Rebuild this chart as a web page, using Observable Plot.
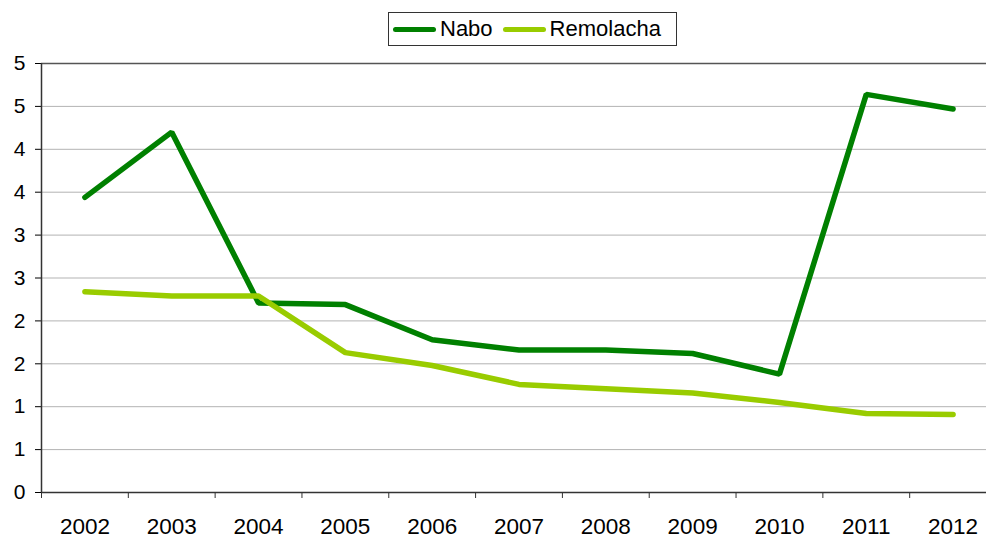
<!DOCTYPE html>
<html>
<head>
<meta charset="utf-8">
<script src="https://cdn.jsdelivr.net/npm/d3@7"></script>
<script src="https://cdn.jsdelivr.net/npm/@observablehq/plot@0.6"></script>
<style>
  html, body { margin: 0; padding: 0; background: #fff; }
  #wrap { position: relative; width: 986px; height: 538px; overflow: hidden; font-family: "Liberation Sans", Arial, sans-serif; }
  #legend { position: absolute; left: 388px; top: 12px; width: 287px; height: 32px; border: 1px solid #333; background: #fff;
    display: flex; align-items: center; font-size: 22px; color: #000; box-sizing: content-box; }
  .item { display: flex; align-items: center; margin-left: 4px; }
  .sw { width: 43px; height: 5px; border-radius: 3px; margin-right: 4px; }
</style>
</head>
<body>
<div id="wrap"></div>
<script>
const years = [2002, 2003, 2004, 2005, 2006, 2007, 2008, 2009, 2010, 2011, 2012];
const nabo = [3.44, 4.20, 2.21, 2.19, 1.78, 1.66, 1.66, 1.62, 1.38, 4.64, 4.47];
const remolacha = [2.34, 2.29, 2.29, 1.63, 1.48, 1.26, 1.21, 1.16, 1.05, 0.92, 0.91];
const seriesNames = ["Nabo", "Remolacha"];
const seriesColors = ["#008000", "#99cc00"];
const yTicks = [0, 0.5, 1, 1.5, 2, 2.5, 3, 3.5, 4, 4.5, 5];

const data = [];
years.forEach((y, i) => {
  data.push({year: y, value: nabo[i], series: "Nabo"});
  data.push({year: y, value: remolacha[i], series: "Remolacha"});
});
const boundaries = years.map(y => y - 0.5).concat([years[years.length - 1] + 0.5]);
const gridTicks = yTicks.filter(t => t > 0 && t < 5);

const chart = Plot.plot({
  width: 986,
  height: 538,
  marginTop: 63,
  marginBottom: 46,
  marginLeft: 41,
  marginRight: 0,
  style: {fontFamily: "'Liberation Sans', Arial, sans-serif", fontSize: "21px", background: "#fff", overflow: "visible"},
  x: {type: "linear", domain: [boundaries[0], boundaries[boundaries.length - 1]], range: [41, 996]},
  y: {domain: [0, 5]},
  color: {domain: seriesNames, range: seriesColors},
  marks: [
    Plot.ruleY(gridTicks, {stroke: "#b3b3b3", strokeWidth: 1}),
    Plot.ruleY([5], {stroke: "#555", strokeWidth: 1.5}),
    Plot.axisY({ticks: yTicks, tickFormat: d => String(Math.round(d)), tickSize: 6, tickPadding: 10,
      fontSize: 21, stroke: "#000", color: "#000", label: null}),
    Plot.axisX({ticks: years, tickFormat: d => String(d), tickSize: 0, tickPadding: 26, fontSize: 22.5, color: "#000", label: null}),
    Plot.axisX({ticks: boundaries, tickFormat: () => "", tickSize: 6, stroke: "#333", label: null}),
    Plot.ruleY([0], {stroke: "#333", strokeWidth: 1.5}),
    Plot.ruleX([boundaries[0]], {stroke: "#333", strokeWidth: 1.5}),
    Plot.line(data, {x: "year", y: "value", z: "series", stroke: "series", strokeWidth: 5.5,
      strokeLinecap: "round", strokeLinejoin: "miter"})
  ]
});
const wrap = document.getElementById("wrap");
wrap.appendChild(chart);

const legend = document.createElement("div");
legend.id = "legend";
seriesNames.forEach((n, i) => {
  const it = document.createElement("div");
  it.className = "item";
  if (i > 0) it.style.marginLeft = "10px";
  const sw = document.createElement("div");
  sw.className = "sw";
  sw.style.background = seriesColors[i];
  const t = document.createElement("span");
  t.textContent = n;
  it.appendChild(sw); it.appendChild(t);
  legend.appendChild(it);
});
wrap.appendChild(legend);
</script>
</body>
</html>
